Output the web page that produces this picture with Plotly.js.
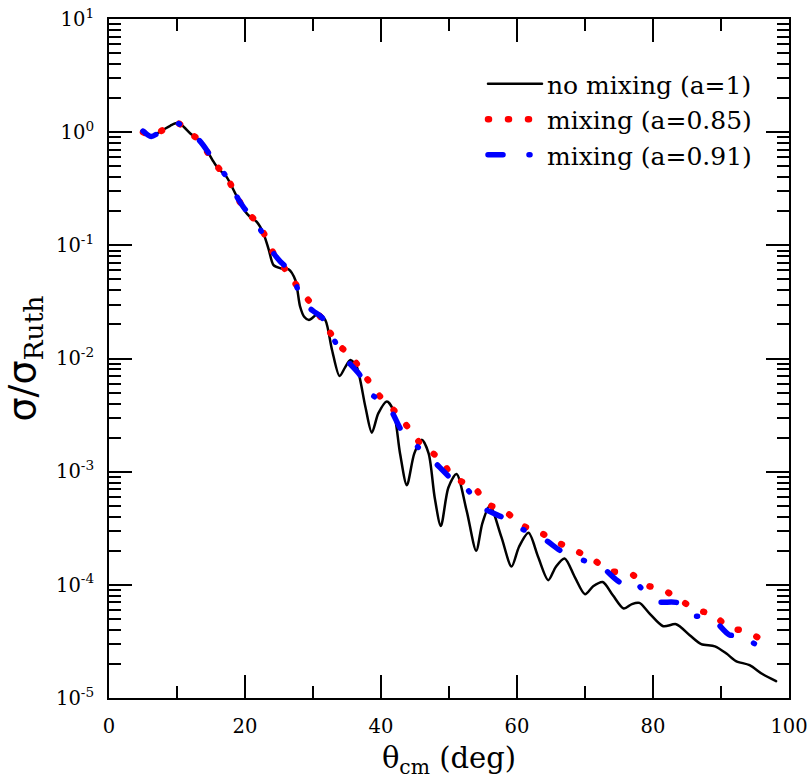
<!DOCTYPE html>
<html>
<head>
<meta charset="utf-8">
<script src="https://cdn.plot.ly/plotly-3.0.1.min.js"></script>
<style>
  html, body { margin: 0; padding: 0; background: #fff; }
  #chart { width: 808px; height: 782px; }
  path.js-line { stroke-linecap: round; stroke-linejoin: round; }
</style>
</head>
<body>
<div id="chart"></div>
<script>
// ---- data ----
const seriesNames = ["no mixing (a=1)", "mixing (a=0.85)", "mixing (a=0.91)"];

const thetaNoMix = [5.0, 6.3, 7.8, 9.0, 10.0, 10.8, 12.0, 13.2, 14.2, 15.2, 16.0, 17.25, 18.8, 20.0, 20.8, 21.7, 22.7, 23.5, 24.2, 25.2, 26.4, 27.4, 28.1, 28.7, 29.4, 30.8, 31.8, 32.8, 33.9, 34.7, 35.5, 36.4, 37.7, 38.65, 39.6, 40.85, 41.8, 42.8, 43.8, 44.9, 46.0, 47.0, 47.9, 48.8, 49.9, 51.1, 52.6, 54.0, 54.9, 56.0, 57.7, 59.2, 60.3, 61.7, 63.1, 64.6, 65.7, 67.0, 68.5, 70.0, 71.2, 72.6, 74.1, 75.7, 76.9, 78.0, 79.5, 81.5, 83.4, 85.4, 87.1, 89.1, 90.8, 92.2, 94.2, 96.15, 98.1];
const sigmaNoMix = [1.02, 0.93, 1.035, 1.138, 1.202, 1.138, 0.968, 0.857, 0.72, 0.570, 0.481, 0.406, 0.270, 0.200, 0.177, 0.162, 0.128, 0.0912, 0.0668, 0.0628, 0.0615, 0.0494, 0.0288, 0.0234, 0.0219, 0.0248, 0.0219, 0.0119, 0.0070, 0.0083, 0.0097, 0.00851, 0.00375, 0.00221, 0.00327, 0.00417, 0.00351, 0.00145, 0.000759, 0.00145, 0.00191, 0.00145, 0.000589, 0.000331, 0.00072, 0.000955, 0.00045, 0.0002, 0.000349, 0.000501, 0.000265, 0.000145, 0.000217, 0.000288, 0.000177, 0.00011, 0.000144, 0.000171, 0.000117, 8.26e-5, 9.72e-5, 1.06e-4, 8.09e-5, 6.17e-5, 6.76e-5, 6.92e-5, 5.57e-5, 4.31e-5, 4.49e-5, 3.59e-5, 2.99e-5, 2.86e-5, 2.47e-5, 2.12e-5, 1.95e-5, 1.62e-5, 1.41e-5];

const thetaMix085 = [5.0, 6.3, 7.8, 10.0, 10.8, 12.0, 13.2, 15.2, 16.0, 17.25, 18.8, 20.0, 21.5, 22.7, 24.2, 26.0, 27.9, 30.0, 31.8, 33.5, 35.9, 37.8, 39.8, 42.1, 44.2, 46.2, 48.8, 50.6, 53.6, 55.6, 58.5, 60.8, 63.5, 65.8, 68.5, 71.2, 73.8, 76.5, 79.0, 81.3, 83.8, 86.5, 88.8, 91.1, 93.6, 95.9, 96.5];
const sigmaMix085 = [1.0, 0.933, 1.035, 1.202, 1.138, 0.968, 0.857, 0.570, 0.490, 0.406, 0.270, 0.204, 0.166, 0.130, 0.0851, 0.0603, 0.0418, 0.0291, 0.0200, 0.0138, 0.00991, 0.00682, 0.00466, 0.00339, 0.00237, 0.00166, 0.00129, 0.000891, 0.000735, 0.000525, 0.000433, 0.000335, 0.000288, 0.00024, 0.000202, 0.000167, 0.000132, 0.000128, 9.93e-5, 9.16e-5, 7.46e-5, 5.97e-5, 5.5e-5, 4.2e-5, 3.89e-5, 3.31e-5, 3.16e-5];

const thetaMix091 = [5.0, 6.2, 7.8, 10.0, 12.0, 13.2, 14.5, 15.2, 17.25, 18.8, 19.1, 20.0, 21.0, 22.0, 23.0, 24.2, 25.2, 26.2, 27.1, 28.4, 30.0, 31.3, 32.6, 34.5, 36.9, 38.15, 41.1, 43.05, 44.75, 47.6, 50.4, 52.4, 54.9, 58.2, 60.5, 63.7, 66.7, 69.0, 72.4, 75.4, 76.6, 77.6, 80.3, 83.7, 85.4, 88.5, 91.3, 93.0, 93.7, 96.0];
const sigmaMix091 = [1.023, 0.916, 1.035, 1.202, 0.968, 0.857, 0.676, 0.570, 0.406, 0.270, 0.251, 0.209, 0.180, 0.148, 0.112, 0.0851, 0.0718, 0.0631, 0.0528, 0.0324, 0.0263, 0.0231, 0.0167, 0.0104, 0.00714, 0.00508, 0.00375, 0.0023, 0.0018, 0.00126, 0.000861, 0.000726, 0.000483, 0.000386, 0.000316, 0.00026, 0.000195, 0.000171, 0.000144, 0.000104, 0.000114, 0.000103, 7.16e-5, 6.92e-5, 5.4e-5, 5.14e-5, 3.59e-5, 3.72e-5, 3.35e-5, 2.79e-5];

const xTickVals = [0, 20, 40, 60, 80, 100];
const yTickVals = [1e-5, 1e-4, 1e-3, 1e-2, 1e-1, 1, 10];
const yTickText = ["10<sup>-5</sup>", "10<sup>-4</sup>", "10<sup>-3</sup>", "10<sup>-2</sup>", "10<sup>-1</sup>", "10<sup>0</sup>", "10<sup>1</sup>"];

// ---- traces ----
const traces = [
  { x: thetaNoMix, y: sigmaNoMix, name: seriesNames[0], mode: "lines",
    line: { color: "#000000", width: 2.5, shape: "spline", smoothing: 0.8 } },
  { x: thetaMix085, y: sigmaMix085, name: seriesNames[1], mode: "lines",
    line: { color: "#ff0000", width: 6.5, dash: "1px,19px", shape: "spline", smoothing: 0.8 } },
  { x: thetaMix091, y: sigmaMix091, name: seriesNames[2], mode: "lines",
    line: { color: "#0000ff", width: 5.5, dash: "15px,26px,1px,26px", shape: "spline", smoothing: 0.8 } }
];

const serif = "DejaVu Serif";
const axisCommon = {
  showline: true, linecolor: "#000", linewidth: 2, mirror: "allticks",
  ticks: "inside", ticklen: 23, tickwidth: 2, tickcolor: "#000",
  showgrid: false, zeroline: false, ticklabeloverflow: "allow",
  tickfont: { family: serif, size: 19.5, color: "#000" }
};

const layout = {
  width: 808, height: 782,
  margin: { l: 109, r: 19, t: 19, b: 84 },
  paper_bgcolor: "#fff", plot_bgcolor: "#fff",
  font: { family: serif, color: "#000" },
  showlegend: true,
  legend: {
    x: 0.55, xanchor: "left", y: 0.938, yanchor: "top",
    bgcolor: "rgba(0,0,0,0)", borderwidth: 0,
    font: { family: serif, size: 25, color: "#000" },
    itemwidth: 54, tracegroupgap: 0
  },
  xaxis: Object.assign({}, axisCommon, {
    range: [0, 100], tickmode: "array", tickvals: xTickVals,
    minor: { dtick: 10, ticks: "inside", ticklen: 12, tickwidth: 2, tickcolor: "#000", showgrid: false },
    ticklabelstandoff: 10,
    title: { text: "θ<sub>cm</sub> (deg)", font: { family: serif, size: 29, color: "#000" }, standoff: 10 }
  }),
  yaxis: Object.assign({}, axisCommon, {
    type: "log", range: [-5, 1], tickmode: "array", tickvals: yTickVals, ticktext: yTickText,
    minor: { dtick: "D1", ticks: "inside", ticklen: 12, tickwidth: 2, tickcolor: "#000", showgrid: false },
    ticklabelstandoff: 9,
    title: { text: "<span style=\"font-family:'DejaVu Sans'\">σ</span>/<span style=\"font-family:'DejaVu Sans'\">σ</span><sub>Ruth</sub>", font: { family: serif, size: 38, color: "#000" }, standoff: 10 }
  })
};

Plotly.newPlot("chart", traces, layout, { displayModeBar: false, staticPlot: true });
</script>
</body>
</html>
